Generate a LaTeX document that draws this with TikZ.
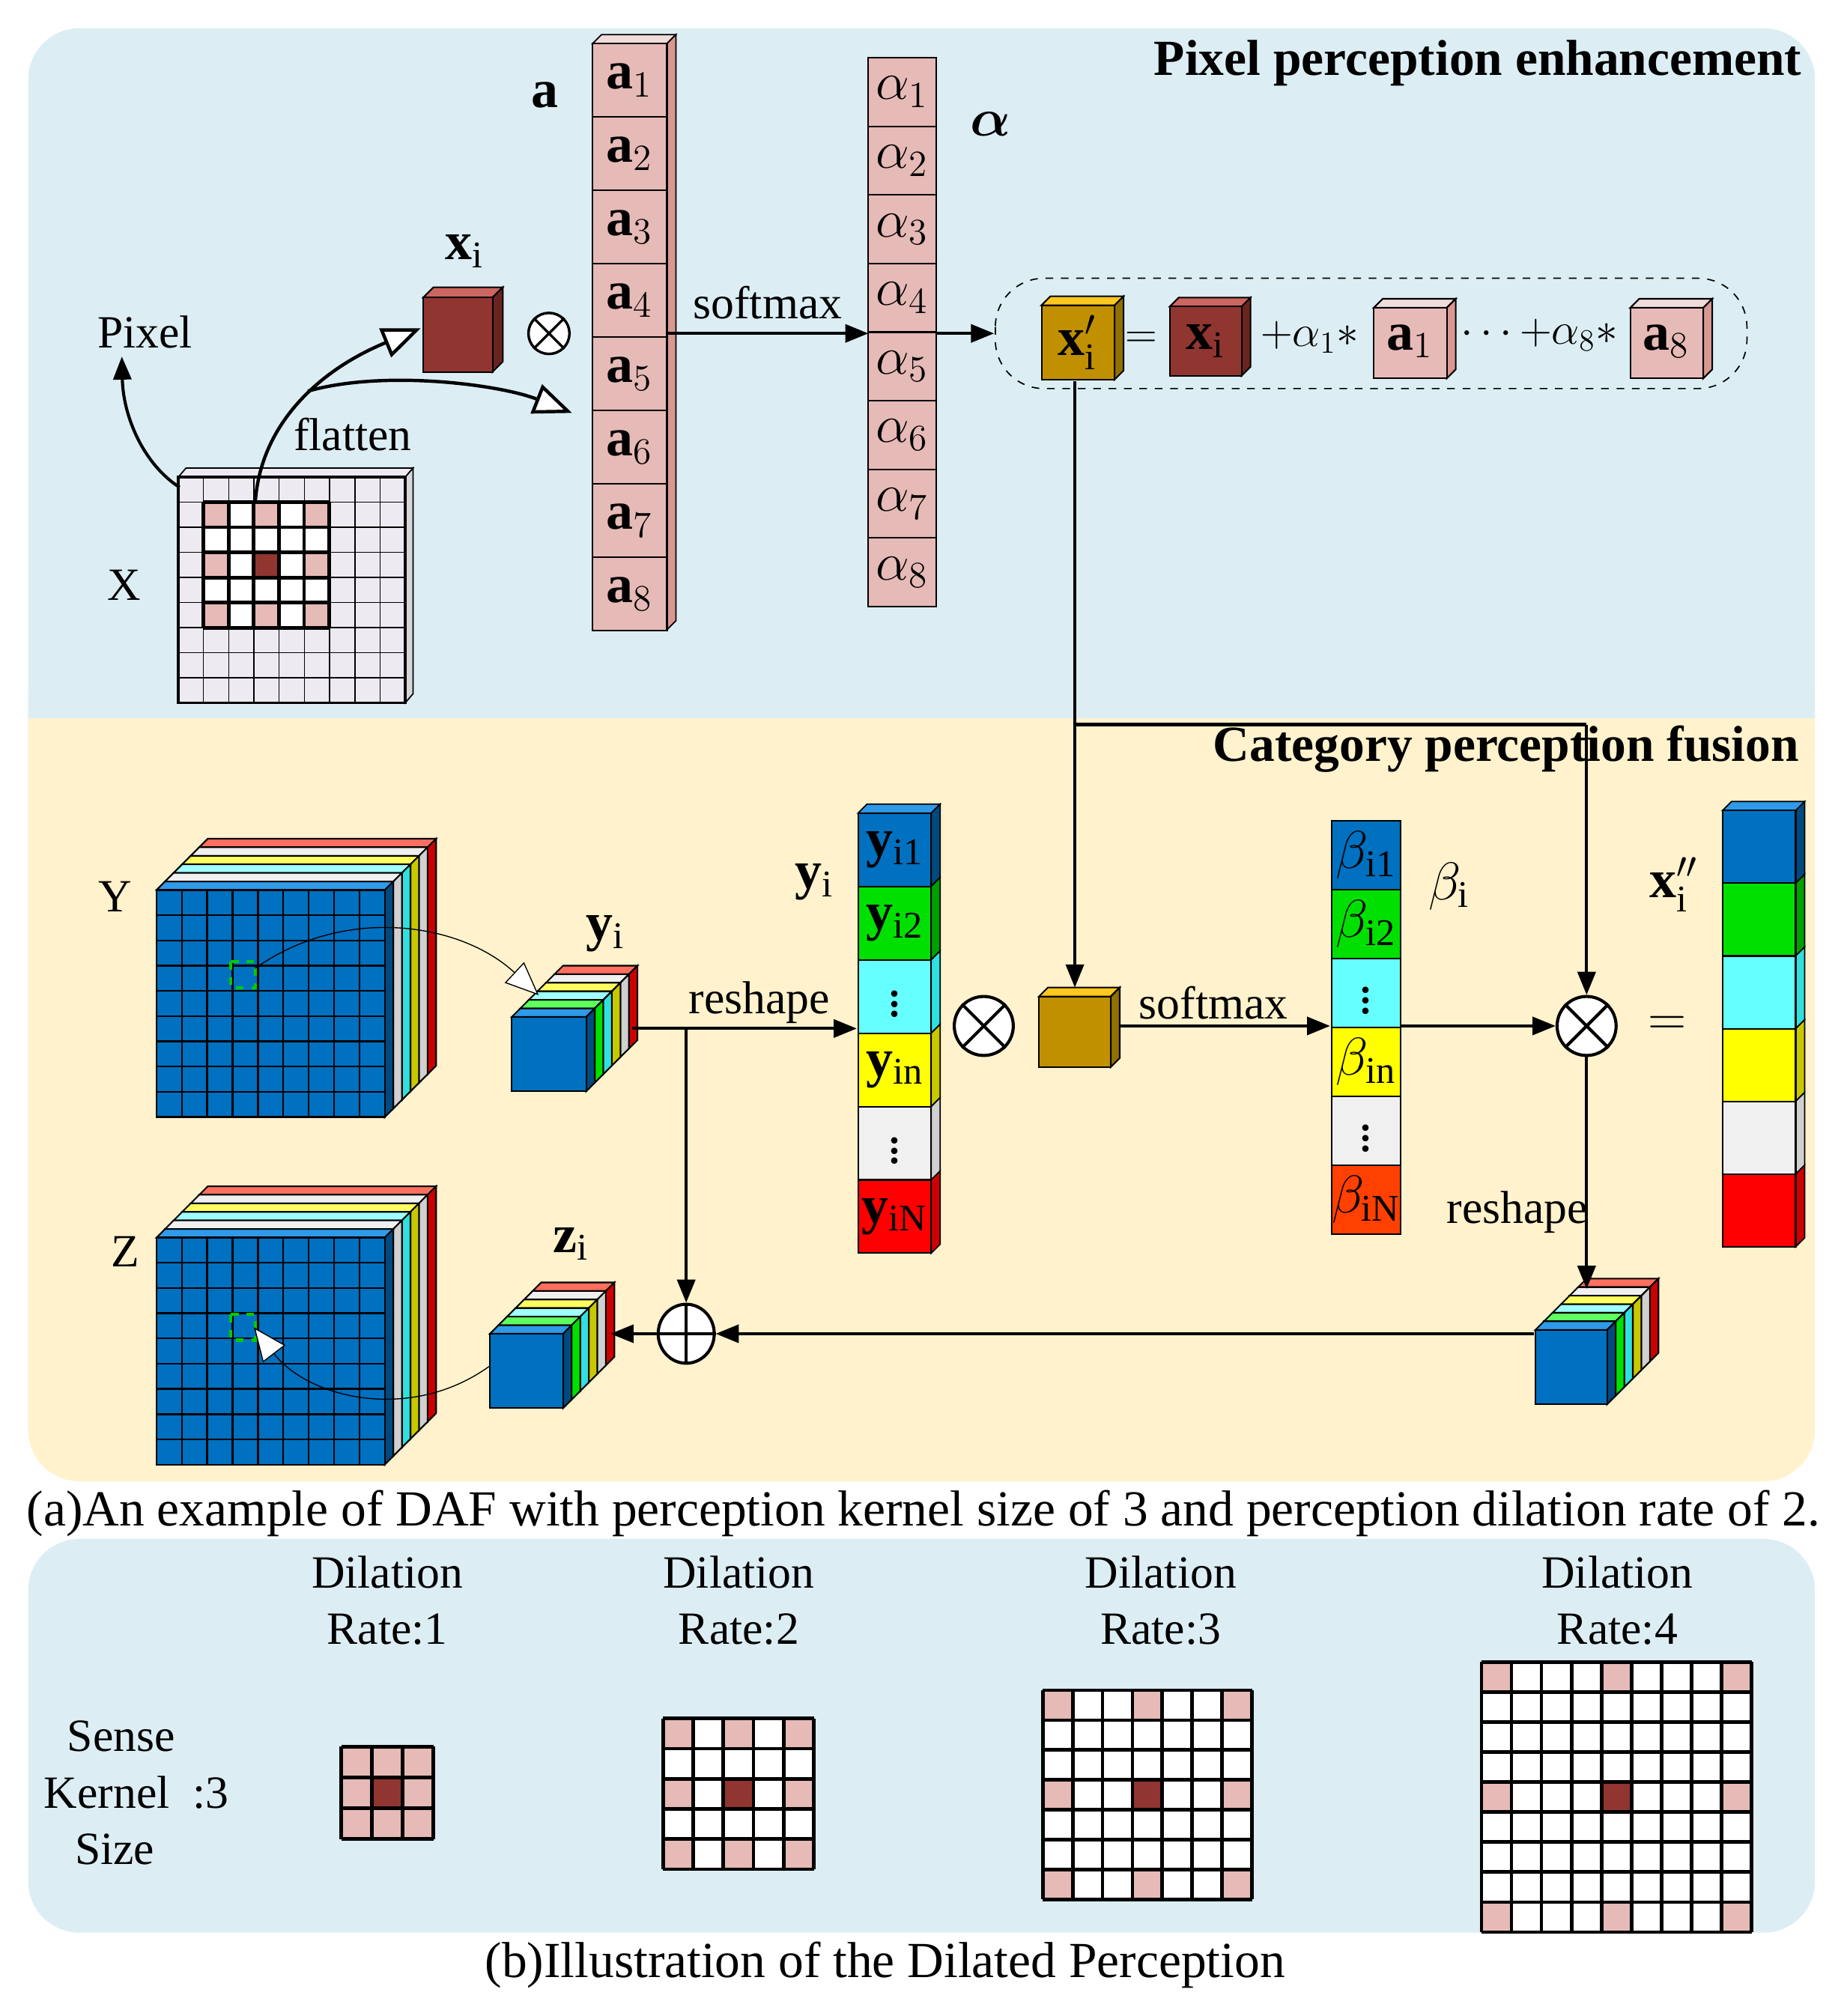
\documentclass[tikz,border=0pt]{standalone}
\usepackage{amsmath}
\usepackage{fontspec}
\setmainfont{Liberation Serif}
\usetikzlibrary{arrows.meta,calc}

\definecolor{bgblue}{HTML}{DCEEF4}
\definecolor{bgbeige}{HTML}{FFF2CC}
\definecolor{kpink}{HTML}{E6BAB6}
\definecolor{kpinktop}{HTML}{F0DCDA}
\definecolor{kpinkside}{HTML}{D89890}
\definecolor{kred}{HTML}{903530}
\definecolor{kredtop}{HTML}{CC6660}
\definecolor{kredside}{HTML}{6A2420}
\definecolor{gold}{HTML}{C09000}
\definecolor{goldtop}{HTML}{FFC820}
\definecolor{goldside}{HTML}{907000}
\definecolor{lav}{HTML}{EEEAF2}
\definecolor{fblue}{HTML}{0070C0}
\definecolor{fbluetop}{HTML}{2E9AE8}
\definecolor{fblueside}{HTML}{004A80}
\definecolor{fgreen}{HTML}{00E000}
\definecolor{fgreentop}{HTML}{60FF60}
\definecolor{fgreenside}{HTML}{00A000}
\definecolor{fcyan}{HTML}{66FFFF}
\definecolor{fcyantop}{HTML}{A0FFFF}
\definecolor{fcyanside}{HTML}{30E0E0}
\definecolor{fyellow}{HTML}{FFFF00}
\definecolor{fyellowtop}{HTML}{FFFF60}
\definecolor{fyellowside}{HTML}{C8C800}
\definecolor{fwhite}{HTML}{F0F0F0}
\definecolor{fwhiteside}{HTML}{D0D0D0}
\definecolor{fred}{HTML}{FF0000}
\definecolor{fredtop}{HTML}{FF6F60}
\definecolor{fredside}{HTML}{CC0000}
\definecolor{forange}{HTML}{FF4000}

% cuboid: x y w h depth front top side
\newcommand\boxthree[8]{%
  \filldraw[fill=#7,line width=0.6pt] (#1,#2) -- ++(#5,-#5) -- ++(#3,0) -- ++(-#5,#5) -- cycle;
  \filldraw[fill=#8,line width=0.6pt] ({#1+#3},#2) -- ++(#5,-#5) -- ++(0,#4) -- ++(-#5,#5) -- cycle;
  \filldraw[fill=#6,line width=0.6pt] (#1,#2) rectangle ++(#3,#4);}

% layered block: x y w h depth layer1top layer1side
\newcommand\stackblk[7]{%
  \pgfmathsetmacro\st{#5/6}%
  \boxthree{#1+5*\st}{#2-5*\st}{#3}{#4}{\st}{fredtop}{fredtop}{fredside}
  \boxthree{#1+4*\st}{#2-4*\st}{#3}{#4}{\st}{fwhite}{fwhite}{fwhiteside}
  \boxthree{#1+3*\st}{#2-3*\st}{#3}{#4}{\st}{fyellowtop}{fyellowtop}{fyellowside}
  \boxthree{#1+2*\st}{#2-2*\st}{#3}{#4}{\st}{fcyantop}{fcyantop}{fcyanside}
  \boxthree{#1+1*\st}{#2-1*\st}{#3}{#4}{\st}{#6}{#6}{#7}
  \boxthree{#1}{#2}{#3}{#4}{\st}{fblue}{fbluetop}{fblueside}}

% kernel grid: x y n cell step
\newcommand\kgrid[5]{%
  \pgfmathtruncatemacro\kmid{(#3-1)/2}%
  \foreach \i in {1,...,#3}{\foreach \j in {1,...,#3}{%
    \pgfmathtruncatemacro\pk{and(mod(\i-1,#5)==0,mod(\j-1,#5)==0)}%
    \ifnum\pk=1 \def\cc{kpink}\else\def\cc{white}\fi
    \pgfmathtruncatemacro\isc{and(\i-1==\kmid,\j-1==\kmid)}%
    \ifnum\isc=1 \def\cc{kred}\fi
    \fill[\cc] ({#1+(\i-1)*#4},{#2+(\j-1)*#4}) rectangle ++(#4,#4);}}%
  \foreach \i in {0,...,#3}{%
    \draw[line width=1.4pt] ({#1+\i*#4},#2) -- ++(0,{#3*#4});
    \draw[line width=1.4pt] (#1,{#2+\i*#4}) -- ++({#3*#4},0);}}

\tikzset{
  lbl/.style={font=\fontsize{18}{21}\selectfont, inner sep=0pt},
  captxt/.style={font=\fontsize{19.7}{23}\selectfont, inner sep=0pt},
  mlbl/.style={font=\fontsize{21}{25}\selectfont, inner sep=0pt},
  flbl/.style={font=\fontsize{18}{22}\selectfont, inner sep=0pt},
  ttl/.style={font=\fontsize{19.7}{23}\selectfont\bfseries, inner sep=0pt},
  arr/.style={line width=1.2pt, -{Triangle[length=9pt,width=7pt]}},
  oarr/.style={line width=1.3pt, -{Triangle[length=15pt,width=12pt,fill=white]}},
  tarr/.style={line width=0.4pt, -{Triangle[length=13pt,width=11pt,fill=white]}},
  op/.style={circle, draw, line width=1.2pt, fill=white, inner sep=0pt, minimum size=23pt},
  cell/.style={draw, line width=0.6pt, inner sep=0pt, font=\fontsize{21}{25}\selectfont},
}

\begin{document}
\begin{tikzpicture}[x=0.5pt,y=-0.5pt]
\useasboundingbox (0,0) rectangle (1440,1572);
\fill[white] (0,0) rectangle (1440,1572);

% panels
\fill[bgbeige, rounded corners=20pt] (22,500) rectangle (1415,1155);
\fill[bgblue, rounded corners=20pt] (22,22) rectangle (1415,600);
\fill[bgblue] (22,100) rectangle (1415,560);
\fill[bgbeige] (22,560) rectangle (1415,1000);
\fill[bgblue, rounded corners=20pt] (22,1200) rectangle (1415,1507);

\node[ttl, anchor=east] (t1) at (1405,49) {Pixel perception enhancement};
\node[ttl, anchor=east] (t2) at (1403,584) {Category perception fusion};
\node[captxt] (capa) at (720,1180) {(a)An example of DAF with perception kernel size of 3 and perception dilation rate of 2.};
\node[captxt] (capb) at (690,1532) {(b)Illustration of the Dilated Perception};

% ---------- top panel ----------
% X grid
\fill[lav, draw=black, line width=0.5pt] (139,372) -- ++(6,-7) -- ++(177,0) -- ++(-6,7) -- cycle;
\fill[lav!80!gray, draw=black, line width=0.5pt] (316,372) -- ++(6,-7) -- ++(0,176) -- ++(-6,7) -- cycle;
\fill[lav] (139,372) rectangle (316,548);
\foreach \i in {0,...,9}{
  \draw[line width=0.4pt] ({139+\i*19.67},372) -- ++(0,176);
  \draw[line width=0.4pt] (139,{372+\i*19.56}) -- ++(177,0);}
\draw[line width=1pt] (139,372) rectangle (316,548);
\kgrid{158.67}{391.5}{5}{19.6}{2}
\node[lbl] (lX) at (97,456) {X};
\coordinate (xs1) at (140,380);
\coordinate (xs2) at (199,392);
\coordinate (xs3) at (240,305);
\node[lbl] (lpix) at (113,259) {Pixel};
\coordinate (pixt) at (95,278);
\draw[arr] (xs1) .. controls (112,362) and (96,325) .. (pixt);
\node[lbl] (lfl) at (275,339) {flatten};

% x_i cube
\boxthree{330}{232}{54}{58}{8}{kred}{kredtop}{kredside}
\coordinate (xic) at (328,256);
\node[mlbl] (lxi) at (362,196) {$\mathbf{x}_{\mathrm{i}}$};
\draw[oarr] (xs2) .. controls (203,330) and (250,288) .. (xic);
\coordinate (acol) at (446,322);
\draw[oarr] (xs3) .. controls (300,288) and (390,300) .. (acol);
\node[op, minimum size=16pt, line width=1pt] (o1) at (428,260) {};
\draw[line width=1pt] (o1.north west) -- (o1.south east) (o1.north east) -- (o1.south west);

% a column
\fill[kpinktop, draw=black, line width=0.5pt] (462,34) -- ++(7,-7) -- ++(58,0) -- ++(-7,7) -- cycle;
\fill[kpinkside, draw=black, line width=0.5pt] (520,34) -- ++(7,-7) -- ++(0,457) -- ++(-7,7) -- cycle;
\foreach \i in {1,...,8}{
  \node[cell, fill=kpink, minimum width=29pt, minimum height=28.6pt] (a\i) at (491,{34+57.2*(\i-0.5)}) {$\mathbf{a}_{\i}$};}
\node[mlbl] (la) at (425,74) {$\mathbf{a}$};

% alpha column
\foreach \i in {1,...,8}{
  \node[cell, fill=kpink, minimum width=26.5pt, minimum height=26.75pt] (al\i) at (703.5,{45+53.5*(\i-0.5)}) {$\alpha_{\i}$};}
\node[mlbl] (lal) at (772,97) {$\boldsymbol{\alpha}$};
\coordinate (aout) at (520,260);
\coordinate (alin) at (677,260);
\draw[arr] (aout) -- (alin) node[lbl, midway, above=5pt] (lsm1) {softmax};
\coordinate (alout) at (730,260);
\coordinate (dbin) at (775,260);
\draw[arr] (alout) -- (dbin);

% dashed formula box
\draw[dashed, line width=0.5pt, rounded corners=19pt] (776,217) rectangle (1362,303);
\boxthree{812}{238}{57}{58}{7}{gold}{goldtop}{goldside}
\node[mlbl] (lxp) at (840,267) {$\mathbf{x}'_{\mathrm{i}}$};
\node[flbl] (leq1) at (890,265) {$=$};
\boxthree{912}{239}{56}{54}{7}{kred}{kredtop}{kredside}
\node[mlbl] (lxi2) at (940,266) {$\mathbf{x}_{\mathrm{i}}$};
\node[flbl] (lp1) at (1021,263) {$+\alpha_1{*}$};
\boxthree{1071}{240}{57}{55}{7}{kpink}{kpinktop}{kpinkside}
\node[mlbl] (la1) at (1099,266) {$\mathbf{a}_1$};
\node[flbl] (lp8) at (1200,261) {$\cdots{+}\alpha_8{*}$};
\boxthree{1271}{240}{57}{55}{7}{kpink}{kpinktop}{kpinkside}
\node[mlbl] (la8) at (1299,266) {$\mathbf{a}_8$};

% ---------- bottom panel ----------
% Y and Z blocks
\stackblk{122}{694}{178}{177}{40}{fwhite}{fwhiteside}
\foreach \i in {0,...,9}{
  \draw[line width=0.7pt] ({122+\i*19.78},694) -- ++(0,177);
  \draw[line width=0.7pt] (122,{694+\i*19.67}) -- ++(178,0);}
\draw[green!80!black, dashed, line width=1.2pt] (180,750) rectangle (199,770);
\node[lbl] (lY) at (90,699) {Y};

\stackblk{122}{965}{178}{177}{40}{fwhite}{fwhiteside}
\foreach \i in {0,...,9}{
  \draw[line width=0.7pt] ({122+\i*19.78},965) -- ++(0,177);
  \draw[line width=0.7pt] (122,{965+\i*19.67}) -- ++(178,0);}
\draw[green!80!black, dashed, line width=1.2pt] (180,1025) rectangle (199,1045);
\node[lbl] (lZ) at (98,976) {Z};

% small cubes
\stackblk{399}{793}{58}{58}{40}{fgreentop}{fgreen}
\node[mlbl] (lyi) at (472,728) {$\mathbf{y}_{\mathrm{i}}$};
\stackblk{382}{1040}{57}{58}{40}{fgreentop}{fgreen}
\node[mlbl] (lzi) at (445,970) {$\mathbf{z}_{\mathrm{i}}$};
\stackblk{1197}{1037}{56}{58}{40}{fgreentop}{fgreen}

\coordinate (ysq) at (199,755);
\coordinate (ycube) at (420,776);
\draw[tarr] (ysq) .. controls (270,705) and (360,720) .. (ycube);
\coordinate (zcube) at (382,1065);
\coordinate (zsq) at (198,1035);
\draw[tarr] (zcube) .. controls (320,1110) and (240,1090) .. (zsq);

% y_i column
\fill[fbluetop, draw=black, line width=0.5pt] (669,634) -- ++(7,-7) -- ++(57,0) -- ++(-7,7) -- cycle;
\foreach \c/\s [count=\i] in {fblue/fblueside, fgreen/fgreenside, fcyan/fcyanside, fyellow/fyellowside, fwhite/fwhiteside, fred/fredside}{
  \fill[\s, draw=black, line width=0.5pt] (726,{634+57.2*(\i-1)}) -- ++(7,-7) -- ++(0,57.2) -- ++(-7,7) -- cycle;}
\node[cell, fill=fblue, minimum width=28.5pt, minimum height=28.6pt] (y1) at (697.5,662.6) {$\mathbf{y}_{\mathrm{i1}}$};
\node[cell, fill=fgreen, minimum width=28.5pt, minimum height=28.6pt] (y2) at (697.5,719.8) {$\mathbf{y}_{\mathrm{i2}}$};
\node[cell, fill=fcyan, minimum width=28.5pt, minimum height=28.6pt] (y3) at (697.5,777) {$\vdots$};
\node[cell, fill=fyellow, minimum width=28.5pt, minimum height=28.6pt] (y4) at (697.5,834.2) {$\mathbf{y}_{\mathrm{in}}$};
\node[cell, fill=fwhite, minimum width=28.5pt, minimum height=28.6pt] (y5) at (697.5,891.4) {$\vdots$};
\node[cell, fill=fred, minimum width=28.5pt, minimum height=28.6pt] (y6) at (697.5,948.6) {$\mathbf{y}_{\mathrm{iN}}$};
\node[mlbl] (lyi2) at (635,688) {$\mathbf{y}_{\mathrm{i}}$};

\coordinate (yout) at (493,802);
\coordinate (yin) at (668,802);
\coordinate (br1) at (535,802);
\draw[arr] (yout) -- (yin);
\node[lbl] (lrs1) at (592,782) {reshape};
\node[op] (m1) at (767,800) {};
\draw[line width=1.2pt] (m1.north west) -- (m1.south east) (m1.north east) -- (m1.south west);

% gold cube
\boxthree{810}{777}{56}{55}{7}{gold}{goldtop}{goldside}
\coordinate (gtop) at (838,770);
\coordinate (gout) at (873,800);
\coordinate (xpbot) at (838,297);
\coordinate (jn) at (838,565);
\coordinate (jr) at (1237,565);
\draw[line width=1.2pt] (xpbot) -- (jn);
\draw[arr] (jn) -- (gtop);

% beta column
\foreach \c/\t [count=\i] in {fblue/{$\beta_{\mathrm{i1}}$}, fgreen/{$\beta_{\mathrm{i2}}$}, fcyan/{$\vdots$}, fyellow/{$\beta_{\mathrm{in}}$}, fwhite/{$\vdots$}, forange/{$\beta_{\mathrm{iN}}$}}{
  \node[cell, fill=\c, minimum width=27pt, minimum height=26.85pt] (b\i) at (1065,{640+53.7*(\i-0.5)}) {\t};}
\node[mlbl] (lbi) at (1130,691) {$\beta_{\mathrm{i}}$};
\coordinate (bin) at (1037,800);
\draw[arr] (gout) -- (bin);
\node[lbl] (lsm2) at (946,782) {softmax};

\node[op] (m2) at (1237,800) {};
\draw[line width=1.2pt] (m2.north west) -- (m2.south east) (m2.north east) -- (m2.south west);
\coordinate (bout) at (1092,800);
\draw[arr] (bout) -- (m2);
\draw[line width=1.2pt] (jn) -- (jr);
\draw[arr] (jr) -- (m2);
\node[mlbl] (leq2) at (1300,800) {$=$};

% x'' column
\fill[fbluetop, draw=black, line width=0.5pt] (1343,632) -- ++(7,-7) -- ++(57,0) -- ++(-7,7) -- cycle;
\foreach \c/\s [count=\i] in {fblue/fblueside, fgreen/fgreenside, fcyan/fcyanside, fyellow/fyellowside, fwhite/fwhiteside, fred/fredside}{
  \fill[\s, draw=black, line width=0.5pt] (1400,{632+56.7*(\i-1)}) -- ++(7,-7) -- ++(0,56.7) -- ++(-7,7) -- cycle;
  \node[cell, fill=\c, minimum width=28.5pt, minimum height=28.35pt] (x\i) at (1371.5,{632+56.7*(\i-0.5)}) {};}
\node[mlbl] (lxpp) at (1305,690) {$\mathbf{x}''_{\mathrm{i}}$};

% reshape back and add
\coordinate (rcube) at (1237,1005);
\draw[arr] (m2) -- (rcube);
\node[lbl] (lrs2) at (1183,945) {reshape};
\node[op, minimum size=23pt, xscale=0.95] (p1) at (535,1040) {};
\draw[line width=1.2pt] (p1.north) -- (p1.south) (p1.west) -- (p1.east);
\coordinate (rleft) at (1196,1040);
\draw[arr] (rleft) -- (p1);
\draw[arr] (br1) -- (p1);
\coordinate (zin) at (476,1040);
\draw[arr] (p1) -- (zin);

% ---------- dilated perception ----------
\node[lbl, align=center] (d1) at (302,1248) {Dilation\\[1pt]Rate:1};
\node[lbl, align=center] (d2) at (576,1248) {Dilation\\[1pt]Rate:2};
\node[lbl, align=center] (d3) at (905,1248) {Dilation\\[1pt]Rate:3};
\node[lbl, align=center] (d4) at (1261,1248) {Dilation\\[1pt]Rate:4};
\node[lbl, align=left, anchor=west] (sk) at (34,1398) {\ \ Sense\\[1pt]Kernel \ :3\\[1pt]\ \ \,Size};
\kgrid{266}{1362}{3}{24}{1}
\kgrid{517}{1340}{5}{23.5}{2}
\kgrid{813}{1318}{7}{23.3}{3}
\kgrid{1155}{1296}{9}{23.4}{4}
\end{tikzpicture}
\end{document}
